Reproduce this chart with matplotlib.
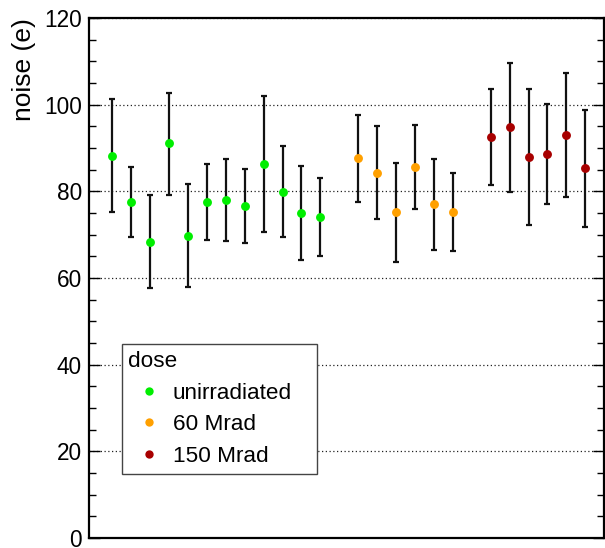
import matplotlib
matplotlib.use("Agg")
import matplotlib.pyplot as plt
from matplotlib.ticker import MultipleLocator
from matplotlib.lines import Line2D

plt.rcParams['font.family'] = ['Liberation Sans', 'DejaVu Sans']

# data
unirr_pos = [1, 2, 3, 4, 5, 6, 7, 8, 9, 10, 11, 12]
unirr_val = [88.2, 77.5, 68.4, 91.1, 69.8, 77.6, 78.1, 76.6, 86.3, 79.9, 75.0, 74.1]
unirr_hi = [101.4, 85.6, 79.1, 102.8, 81.6, 86.3, 87.5, 85.1, 102.1, 90.4, 85.9, 83.0]
unirr_lo = [75.2, 69.5, 57.8, 79.2, 58.0, 68.8, 68.6, 68.1, 70.6, 69.5, 64.2, 65.1]

m60_pos = [14, 15, 16, 17, 18, 19]
m60_val = [87.6, 84.3, 75.2, 85.6, 77.1, 75.2]
m60_hi = [97.6, 95.0, 86.6, 95.2, 87.5, 84.2]
m60_lo = [77.6, 73.7, 63.8, 75.9, 66.5, 66.2]

m150_pos = [21, 22, 23, 24, 25, 26]
m150_val = [92.5, 94.8, 88.0, 88.6, 93.1, 85.4]
m150_hi = [103.6, 109.6, 103.6, 100.2, 107.4, 98.7]
m150_lo = [81.5, 79.9, 72.3, 77.1, 78.8, 71.8]

labels = ['unirradiated', '60 Mrad', '150 Mrad']
colors = ['#00EE00', '#FFA000', '#A80000']
yticks = [0, 20, 40, 60, 80, 100, 120]

fig = plt.figure(figsize=(6.05, 5.48), dpi=100)
ax = fig.add_axes([89/605, 1-538/548, (604-89)/605, (538-18)/548])

series = [(unirr_pos, unirr_val, unirr_hi, unirr_lo),
          (m60_pos, m60_val, m60_hi, m60_lo),
          (m150_pos, m150_val, m150_hi, m150_lo)]

for (p, v, hi, lo), c in zip(series, colors):
    yerr = [[vv - l for vv, l in zip(v, lo)], [h - vv for vv, h in zip(v, hi)]]
    ax.errorbar(p, v, yerr=yerr, fmt='none', ecolor='#111111', elinewidth=1.6,
                capsize=2.2, capthick=1.6, zorder=2)
    ax.plot(p, v, 'o', color=c, markersize=6.4, markeredgewidth=0, zorder=3)

ax.set_xlim(-0.23, 26.99)
ax.set_ylim(0, 120)
ax.set_yticks(yticks)
ax.yaxis.set_minor_locator(MultipleLocator(5))
ax.set_xticks([])
ax.tick_params(axis='y', which='major', direction='in', length=8, width=1.0,
               right=True, labelsize=16.3, pad=5)
ax.tick_params(axis='y', which='minor', direction='in', length=5, width=1.0, right=True)
ax.grid(axis='y', which='major', linestyle=(0, (1, 2)), color='#222222', linewidth=0.9)
ax.set_axisbelow(True)
for s in ax.spines.values():
    s.set_linewidth(1.6)
    s.set_color('black')
ax.set_ylabel('noise (e)', fontsize=19)
ax.yaxis.set_label_coords(-0.102, (538-70)/520)

handles = [Line2D([], [], marker='o', linestyle='none', color=c, markersize=6.0,
                  markeredgewidth=0) for c in colors]
leg = ax.legend(handles, labels, title='dose', loc='upper left',
                bbox_to_anchor=((121.7-89)/515, (538-344)/520, (316.7-121.7)/515, 0),
                mode='expand', fontsize=16.2, title_fontsize=16.2, frameon=True,
                fancybox=False, edgecolor='#444444', framealpha=1,
                borderpad=0.3, handletextpad=0.15, labelspacing=0.48,
                handlelength=1.83, borderaxespad=0)
leg._legend_box.align = 'left'
leg.get_frame().set_linewidth(1.0)

fig.savefig('out.png', dpi=100)
